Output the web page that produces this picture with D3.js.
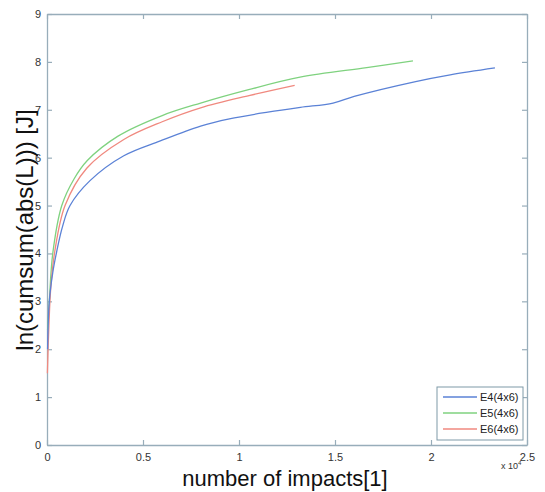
<!DOCTYPE html>
<html>
<head>
<meta charset="utf-8">
<script src="https://cdn.jsdelivr.net/npm/d3@7/dist/d3.min.js"></script>
<style>
  body { margin: 0; background: #fff; }
  text { font-family: "Liberation Sans", Arial, sans-serif; }
</style>
</head>
<body>
<div id="chart"></div>
<script>
"use strict";

// values (x in units of 10^4 impacts)
const seriesNames = ["E4(4x6)", "E5(4x6)", "E6(4x6)"];
const seriesColors = ["#5b82d6", "#7fd27f", "#f0897f"];

const e4X = [0.003, 0.012, 0.03, 0.05, 0.08, 0.12, 0.224, 0.40, 0.59, 0.80, 0.95, 1.15, 1.32, 1.49, 1.6, 1.92, 2.10, 2.333];
const e4Y = [2.0, 3.0, 3.6, 4.03, 4.55, 5.0, 5.52, 6.04, 6.35, 6.66, 6.81, 6.95, 7.05, 7.14, 7.28, 7.59, 7.73, 7.875];

const e5X = [0.003, 0.012, 0.03, 0.077, 0.14, 0.21, 0.37, 0.6, 0.8, 1.05, 1.318, 1.665, 1.906];
const e5Y = [2.4, 3.0, 4.0, 5.0, 5.55, 5.94, 6.45, 6.88, 7.14, 7.42, 7.68, 7.88, 8.02];

const e6X = [0.002, 0.01, 0.02, 0.04, 0.094, 0.207, 0.40, 0.6, 0.8, 1.057, 1.29];
const e6Y = [1.5, 2.5, 3.3, 4.03, 5.0, 5.78, 6.38, 6.75, 7.04, 7.3, 7.51];

const xTicks = [0, 0.5, 1, 1.5, 2, 2.5];
const yTicks = [0, 1, 2, 3, 4, 5, 6, 7, 8, 9];

const W = 545, H = 492;
const margin = {left: 47, right: 18, top: 14, bottom: 47};

const svg = d3.select("#chart").append("svg")
    .attr("width", W)
    .attr("height", H);

const x = d3.scaleLinear().domain([0, 2.5]).range([margin.left, W - margin.right]);
const y = d3.scaleLinear().domain([0, 9]).range([H - margin.bottom, margin.top]);

const axisColor = "#98adba";
const tickLen = 5;

// axes (box with inward ticks)
const g = svg.append("g");
const axBottom = g.append("g").attr("transform", "translate(0," + y(0) + ")")
    .call(d3.axisBottom(x).tickValues(xTicks).tickSizeInner(-tickLen).tickSizeOuter(0).tickPadding(8)
        .tickFormat(d3.format("")));
const axLeft = g.append("g").attr("transform", "translate(" + x(0) + ",0)")
    .call(d3.axisLeft(y).tickValues(yTicks).tickSizeInner(-tickLen).tickSizeOuter(0).tickPadding(6));
const axTop = g.append("g").attr("transform", "translate(0," + y(9) + ")")
    .call(d3.axisTop(x).tickValues(xTicks).tickSizeInner(-tickLen).tickSizeOuter(0).tickFormat(""));
const axRight = g.append("g").attr("transform", "translate(" + x(2.5) + ",0)")
    .call(d3.axisRight(y).tickValues(yTicks).tickSizeInner(-tickLen).tickSizeOuter(0).tickFormat(""));

[axBottom, axLeft, axTop, axRight].forEach(a => {
    a.select(".domain").attr("stroke", axisColor).attr("stroke-width", 1.3);
    a.selectAll(".tick line").attr("stroke", axisColor).attr("stroke-width", 1.2);
    a.selectAll(".tick text").attr("fill", "#333").style("font-size", "11px")
        .style("font-family", "Liberation Sans, Arial, sans-serif");
});

// lines
const line = d3.line()
    .x(d => x(d[0]))
    .y(d => y(d[1]))
    .curve(d3.curveCatmullRom.alpha(0.5));

const series = [
    d3.zip(e4X, e4Y),
    d3.zip(e5X, e5Y),
    d3.zip(e6X, e6Y)
];

// draw E4 last so it sits on top at the start like the reference
[1, 2, 0].forEach(k => {
    svg.append("path")
        .datum(series[k])
        .attr("fill", "none")
        .attr("stroke", seriesColors[k])
        .attr("stroke-width", 1.3)
        .attr("d", line);
});

// axis titles
svg.append("text")
    .attr("x", 285).attr("y", 486)
    .attr("text-anchor", "middle")
    .attr("fill", "#111")
    .style("font-size", "22px")
    .text("number of impacts[1]");

svg.append("text")
    .attr("transform", "translate(33,230) rotate(-90)")
    .attr("text-anchor", "middle")
    .attr("fill", "#111")
    .style("font-size", "24px")
    .text("ln(cumsum(abs(L))) [J]");

// x 10^4 multiplier
const mult = svg.append("text")
    .attr("x", 501).attr("y", 469)
    .attr("fill", "#333")
    .style("font-size", "9px");
mult.append("tspan").text("x 10");
mult.append("tspan").attr("dy", -4).style("font-size", "6px").text("4");

// legend
const lg = svg.append("g");
lg.append("rect")
    .attr("x", 437).attr("y", 387)
    .attr("width", 86).attr("height", 53)
    .attr("fill", "#fff")
    .attr("stroke", "#7f9aa8")
    .attr("stroke-width", 1);

seriesNames.forEach((name, k) => {
    const yy = 397 + k * 16;
    lg.append("line")
        .attr("x1", 443).attr("x2", 477)
        .attr("y1", yy).attr("y2", yy)
        .attr("stroke", seriesColors[k])
        .attr("stroke-width", 1.3);
    lg.append("text")
        .attr("x", 480).attr("y", yy + 4)
        .attr("fill", "#222")
        .style("font-size", "11px")
        .text(name);
});
</script>
</body>
</html>
